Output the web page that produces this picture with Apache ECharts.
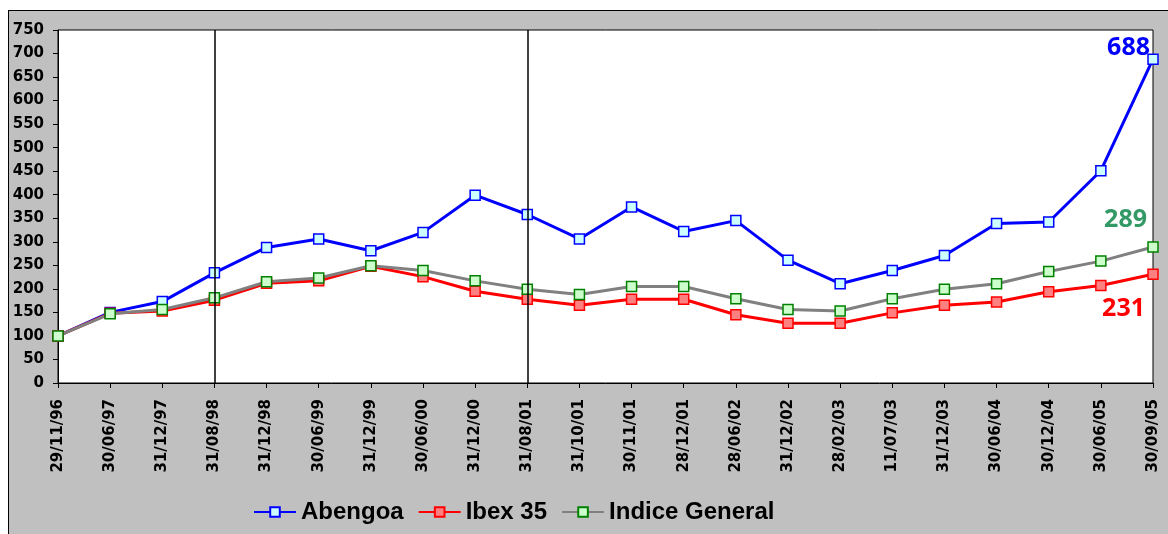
<!DOCTYPE html>
<html lang="es">
<head>
    <meta charset="UTF-8">
    <title>Abengoa vs Ibex 35 vs Indice General</title>
    <script src="https://cdn.jsdelivr.net/npm/echarts@6.0.0/dist/echarts.min.js"></script>
    <style>
        body, html {
            margin: 0;
            padding: 0;
            background-color: #ffffff;
            overflow: hidden;
        }
        #chart {
            position: absolute;
            left: 8px;
            top: 10px;
            width: 1159px;
            height: 523px;
            border-left: 1px solid #000;
            border-top: 1px solid #000;
            background-color: #c0c0c0;
        }
    </style>
</head>
<body>
    <div id="chart"></div>

    <script>
        const fechas = ['29/11/96', '30/06/97', '31/12/97', '31/08/98', '31/12/98', '30/06/99', '31/12/99',
            '30/06/00', '31/12/00', '31/08/01', '31/10/01', '30/11/01', '28/12/01', '28/06/02', '31/12/02',
            '28/02/03', '11/07/03', '31/12/03', '30/06/04', '30/12/04', '30/06/05', '30/09/05'];
        const abengoa = [100, 150, 173, 234, 288, 306, 281, 320, 399, 358, 306, 374, 322, 345, 261,
            211, 239, 271, 339, 342, 451, 688];
        const ibex35 = [100, 148, 153, 176, 212, 217, 248, 226, 195, 178, 165, 178, 178, 145, 127,
            127, 149, 165, 172, 194, 207, 231];
        const indiceGeneral = [100, 147, 156, 181, 215, 223, 249, 239, 217, 199, 188, 205, 205, 179, 156,
            153, 179, 199, 211, 237, 259, 289];
        const fechasMarcadas = ['31/08/98', '31/08/01'];

        const axisFont = { fontFamily: 'DejaVu Sans', fontWeight: 'bold', fontSize: 15, color: '#000' };

        function lastLabel(value, color, offset) {
            return {
                value: value,
                label: {
                    show: true,
                    position: 'inside',
                    align: 'right',
                    offset: offset,
                    formatter: String(value),
                    color: color,
                    fontFamily: 'Open Sans',
                    fontWeight: 'bold',
                    fontSize: 25
                }
            };
        }

        function withEndLabel(values, color, offset) {
            const d = values.slice();
            d[d.length - 1] = lastLabel(values[values.length - 1], color, offset);
            return d;
        }

        const chart = echarts.init(document.getElementById('chart'));
        chart.setOption({
            animation: false,
            backgroundColor: '#c0c0c0',
            grid: {
                left: 49, top: 19, width: 1095, height: 353,
                show: true, backgroundColor: '#ffffff', borderColor: '#000', borderWidth: 1
            },
            legend: {
                left: 239, top: 484,
                itemWidth: 42, itemHeight: 12, itemGap: 14,
                textStyle: { fontFamily: 'Liberation Sans', fontWeight: 'bold', fontSize: 24, color: '#000' },
                data: ['Abengoa', 'Ibex 35', 'Indice General']
            },
            xAxis: {
                type: 'category',
                data: fechas,
                boundaryGap: false,
                axisLine: { lineStyle: { color: '#000', width: 1 } },
                axisTick: { alignWithLabel: true, length: 5, lineStyle: { color: '#000' } },
                axisLabel: Object.assign({ rotate: 90, margin: 16, interval: 0 }, axisFont),
                splitLine: { show: false }
            },
            yAxis: {
                type: 'value',
                min: 0, max: 750, interval: 50,
                axisLine: { show: true, lineStyle: { color: '#000', width: 1 } },
                axisTick: { show: true, length: 5, lineStyle: { color: '#000' } },
                axisLabel: Object.assign({ margin: 14 }, axisFont),
                splitLine: { show: false }
            },
            series: [
                {
                    name: 'Abengoa',
                    type: 'line',
                    data: withEndLabel(abengoa, '#0000ff', [-3, -11]),
                    symbol: 'rect', symbolSize: 10,
                    lineStyle: { color: '#0000ff', width: 3 },
                    itemStyle: { color: '#ccffff', borderColor: '#0000ff', borderWidth: 1.5 },
                    markLine: {
                        silent: true,
                        symbol: 'none',
                        label: { show: false },
                        lineStyle: { color: '#000', width: 1.5, type: 'solid' },
                        data: fechasMarcadas.map(f => ({ xAxis: f }))
                    }
                },
                {
                    name: 'Ibex 35',
                    type: 'line',
                    data: withEndLabel(ibex35, '#ff0000', [-8, 35]),
                    symbol: 'rect', symbolSize: 10,
                    lineStyle: { color: '#ff0000', width: 3 },
                    itemStyle: { color: '#ff8080', borderColor: '#ff0000', borderWidth: 1.5 }
                },
                {
                    name: 'Indice General',
                    type: 'line',
                    data: withEndLabel(indiceGeneral, '#339966', [-6, -27]),
                    symbol: 'rect', symbolSize: 10,
                    lineStyle: { color: '#808080', width: 3 },
                    itemStyle: { color: '#ccffcc', borderColor: '#008000', borderWidth: 1.5 }
                }
            ]
        });
    </script>
</body>
</html>
